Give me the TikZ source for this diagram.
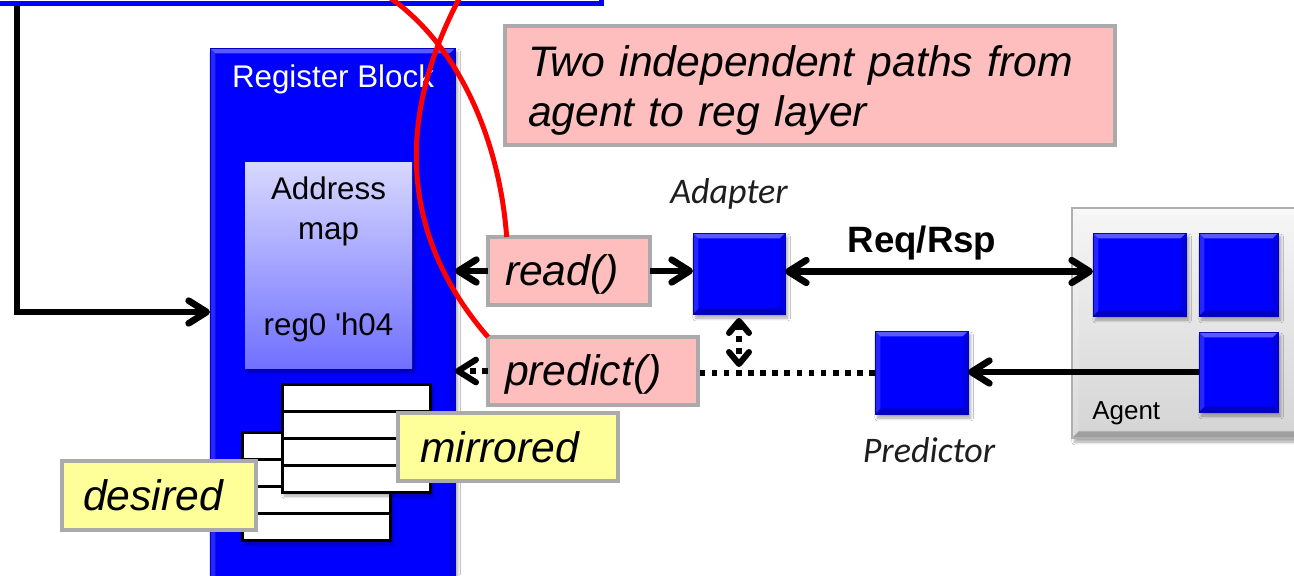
\documentclass[tikz,border=0pt]{standalone}
\usepackage{fontspec}
\setmainfont{Liberation Sans}
\newfontfamily\calibfont{Carlito}
\usetikzlibrary{arrows.meta,shadows.blur}

\tikzset{
  % light top / dark bottom edges, like a bevelled button
  bevel/.style={path picture={
    \fill[white,opacity=0.35] (path picture bounding box.north west) -- (path picture bounding box.north east)
      -- ([shift={(-#1,-#1)}]path picture bounding box.north east) -- ([shift={(#1,-#1)}]path picture bounding box.north west) -- cycle;
    \fill[white,opacity=0.15] (path picture bounding box.north west) -- (path picture bounding box.south west)
      -- ([shift={(#1,#1)}]path picture bounding box.south west) -- ([shift={(#1,-#1)}]path picture bounding box.north west) -- cycle;
    \fill[black,opacity=0.25] (path picture bounding box.south west) -- (path picture bounding box.south east)
      -- ([shift={(-#1,#1)}]path picture bounding box.south east) -- ([shift={(#1,#1)}]path picture bounding box.south west) -- cycle;
    \fill[black,opacity=0.12] (path picture bounding box.north east) -- (path picture bounding box.south east)
      -- ([shift={(-#1,#1)}]path picture bounding box.south east) -- ([shift={(-#1,-#1)}]path picture bounding box.north east) -- cycle;
  }},
  bevel/.default=4pt,
  softshadow/.style={blur shadow={shadow blur steps=6, shadow xshift=2pt, shadow yshift=-3pt, shadow opacity=35}},
  bluebox/.style={fill={rgb,255:red,0;green,0;blue,255}, draw={rgb,255:red,0;green,0;blue,190}, line width=0.6pt,
    inner sep=0pt, outer sep=0pt, bevel, softshadow},
  amapbox/.style={top color={rgb,255:red,216;green,216;blue,255}, bottom color={rgb,255:red,112;green,112;blue,255},
    draw=none, inner sep=0pt, outer sep=0pt, softshadow},
  regrow/.style={draw=black, fill=white, line width=2.25pt, minimum width=111pt, minimum height=20.25pt,
    inner sep=0pt, outer sep=0pt},
  tagbox/.style={draw={rgb,255:red,170;green,170;blue,170}, line width=3pt, inner ysep=0pt, outer sep=0pt,
    align=left, font=\fontsize{32}{37.5}\selectfont\itshape},
  pinkbox/.style={tagbox, fill={rgb,255:red,255;green,190;blue,190}},
  yellowbox/.style={tagbox, fill={rgb,255:red,255;green,255;blue,153}},
  midtext/.style={font=\fontsize{23.5}{30}\selectfont, inner sep=0pt},
  calibtext/.style={font=\fontsize{27}{32}\selectfont\calibfont\itshape, text={rgb,255:red,30;green,30;blue,30}, inner sep=0pt},
  barb/.tip={Straight Barb[length=13.5pt,width=17pt,round]},
  smallbarb/.tip={Straight Barb[length=9pt,width=15pt,round]},
  conn/.style={line width=5pt, line join=miter, -barb},
  biconn/.style={line width=5pt, barb-barb},
  dotline/.style={line width=4.5pt, dash pattern=on 4.2pt off 4.9pt},
  redstroke/.style={red, line width=3.75pt},
}

\begin{document}
\begin{tikzpicture}[x=0.75pt,y=-0.75pt]
\fill[white] (0,0) rectangle (1294,575);
\useasboundingbox (0,0) rectangle (1294,575);
\clip (0,0) rectangle (1294,575);

% frame of the enclosing block above
\draw[line width=3.75pt, draw={rgb,255:red,0;green,0;blue,255}] (-40,-40) rectangle (601,3);

% feedback path into the register block
\coordinate (fbtop) at (17,6);
\coordinate (fbbend) at (17,312);

% register block
\node[bluebox, minimum width=183.75pt, minimum height=414pt] (reg) at (332.5,324) {};
\node[midtext, text=white] (regtitle) at (333,79) {Register Block};

% address map
\node[amapbox, minimum width=125.25pt, minimum height=154.5pt] (amap) at (328.5,265) {};
\node[midtext, align=center] (amaptxt) at (328.5,211) {Address\\map};
\node[midtext] (reg0) at (328.5,327) {reg0 \textquotesingle h04};

% desired register stack
\fill[white, softshadow] (242,432) rectangle (390,540);
\foreach \i in {0,...,3}
  \node[regrow] (back\i) at (316,445.5+27*\i) {};
\node[yellowbox, minimum width=145.5pt, minimum height=51.75pt, inner xsep=15.75pt, text width=114pt] (desired) at (159,495.5) {desired};

% mirrored register stack
\fill[white, softshadow] (282,384) rectangle (430,492);
\foreach \i in {0,...,3}
  \node[regrow] (front\i) at (356,397.5+27*\i) {};
\node[yellowbox, minimum width=165pt, minimum height=51pt, inner xsep=16.5pt, text width=132pt] (mirrored) at (508,447) {mirrored};

% note
\node[pinkbox, minimum width=457.5pt, minimum height=89.25pt, inner xsep=17.25pt, text width=423pt] (note) at (810,85.5)
  {\rule{0pt}{31pt}Two independent paths from\\agent to reg layer};

% access calls
\node[pinkbox, minimum width=121.5pt, minimum height=51pt, inner xsep=12.75pt, text width=96pt] (read) at (569,271) {\rule{0pt}{28pt}read()};
\node[pinkbox, minimum width=157.5pt, minimum height=51pt, inner xsep=12.75pt, text width=132pt] (predict) at (593,371) {\rule{0pt}{28pt}predict()};

% adapter
\node[bluebox, minimum width=69pt, minimum height=60.75pt] (adapter) at (739,273.5) {};
\node[calibtext] (adaptertxt) at (729,194) {Adapter};

% agent
\node[top color={rgb,255:red,246;green,246;blue,246}, bottom color={rgb,255:red,212;green,212;blue,212},
      draw={rgb,255:red,175;green,175;blue,175}, line width=1pt, bevel=5pt, softshadow,
      minimum width=178.5pt, minimum height=172.5pt, inner sep=0pt] (agent) at (1191,323) {};
\node[font=\fontsize{19.5}{24}\selectfont, anchor=west, inner sep=0pt] (agenttxt) at (1092,413) {Agent};
\node[bluebox, minimum width=69.75pt, minimum height=62.25pt] (a1) at (1139.5,274.5) {};
\node[bluebox, minimum width=59.25pt, minimum height=62.25pt] (a2) at (1238.5,274.5) {};
\node[bluebox, minimum width=59.25pt, minimum height=60pt] (a3) at (1238.5,372) {};

% predictor
\node[bluebox, minimum width=69.75pt, minimum height=62.25pt] (predictor) at (921.5,372.5) {};
\node[calibtext] (predictortxt) at (929,450) {Predictor};

\node[font=\fontsize{27.5}{32}\selectfont\bfseries, inner sep=0pt] (reqrsp) at (922,243) {Req/Rsp};

% connectors
\draw[conn] (fbtop) -- (fbbend) -- (fbbend -| reg.west);
\draw[conn] (read.west) -- (read.west -| reg.east);
\draw[conn] (read.east) -- (read.east -| adapter.west);
\draw[biconn] ([yshift=1.5pt]adapter.east) -- ([yshift=1.5pt]adapter.east -| a1.west);
\draw[conn] (a3.west) -- (a3.west -| predictor.east);
\draw[dotline] (predictor.west) -- (predictor.west -| predict.east);
\draw[dotline, -barb] (predict.west) -- (predict.west -| reg.east);
\coordinate (vlow) at ([yshift=3pt]adapter.south |- predict.east);
\draw[dotline, smallbarb-smallbarb, shorten <=3pt] (adapter.south) -- (vlow);

% crossing red strokes
\draw[redstroke] (389,-3) .. controls (462,48) and (500,145) .. ([xshift=14pt]read.north west);
\draw[redstroke] (460,-3) .. controls (400,110) and (395,230) .. (predict.north west);
\end{tikzpicture}
\end{document}
